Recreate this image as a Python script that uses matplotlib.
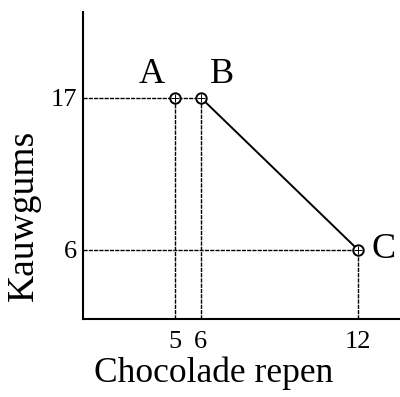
import matplotlib.pyplot as plt

# --- data ---
point_labels = ["A", "B", "C"]
chocolade = [5, 6, 12]
kauwgums = [17, 17, 6]
x_ticks = [5, 6, 12]
y_ticks = [6, 17]

plt.rcParams['font.family'] = ['Liberation Serif', 'DejaVu Serif']

fig = plt.figure(figsize=(4, 3.97), dpi=100)
ax = fig.add_axes([83 / 400, (397 - 319) / 397, 317 / 400, (319 - 12) / 397])

ax.set_xlim(1.5, 13.6)
ax.set_ylim(1.0, 23.2)

guide = dict(color="black", lw=1.0, ls=(0, (3, 0.8)))

# guide lines from the axes to each point
ax.plot([1.5, chocolade[1]], [kauwgums[0], kauwgums[1]], **guide)
ax.plot([1.5, chocolade[2]], [kauwgums[2], kauwgums[2]], **guide)
for x, y in zip(chocolade, kauwgums):
    ax.plot([x, x], [1.0, y], **guide)

# budget line B -> C
ax.plot(chocolade[1:], kauwgums[1:], color="black", lw=1.4)

# points
ax.plot(chocolade, kauwgums, ls="none", marker="o", ms=7.5, mfc="white",
        mec="black", mew=1.4)
ax.plot(chocolade, kauwgums, ls="none", marker="+", ms=6, mec="black", mew=0.7)

# point labels
ax.text(chocolade[0] - 0.88, kauwgums[0] + 1.1, point_labels[0], fontsize=26,
        ha="center", va="baseline")
ax.text(chocolade[1] + 0.8, kauwgums[1] + 1.1, point_labels[1], fontsize=26,
        ha="center", va="baseline")
ax.text(chocolade[2] + 0.5, kauwgums[2], point_labels[2], fontsize=26,
        ha="left", va="center")

ax.set_xticks(x_ticks)
ax.set_yticks(y_ticks)
ax.tick_params(length=0, labelsize=19)
ax.tick_params(axis="x", pad=9)
ax.tick_params(axis="y", pad=4)

ax.set_xlabel("Chocolade repen", fontsize=25.5, labelpad=2)
ax.set_ylabel("Kauwgums", fontsize=27, labelpad=7)
ax.xaxis.label.set_x(0.413)
ax.yaxis.label.set_y(0.339)

for side in ["top", "right"]:
    ax.spines[side].set_visible(False)
for side in ["left", "bottom"]:
    ax.spines[side].set_linewidth(1.5)

fig.savefig("out.png", dpi=100)
